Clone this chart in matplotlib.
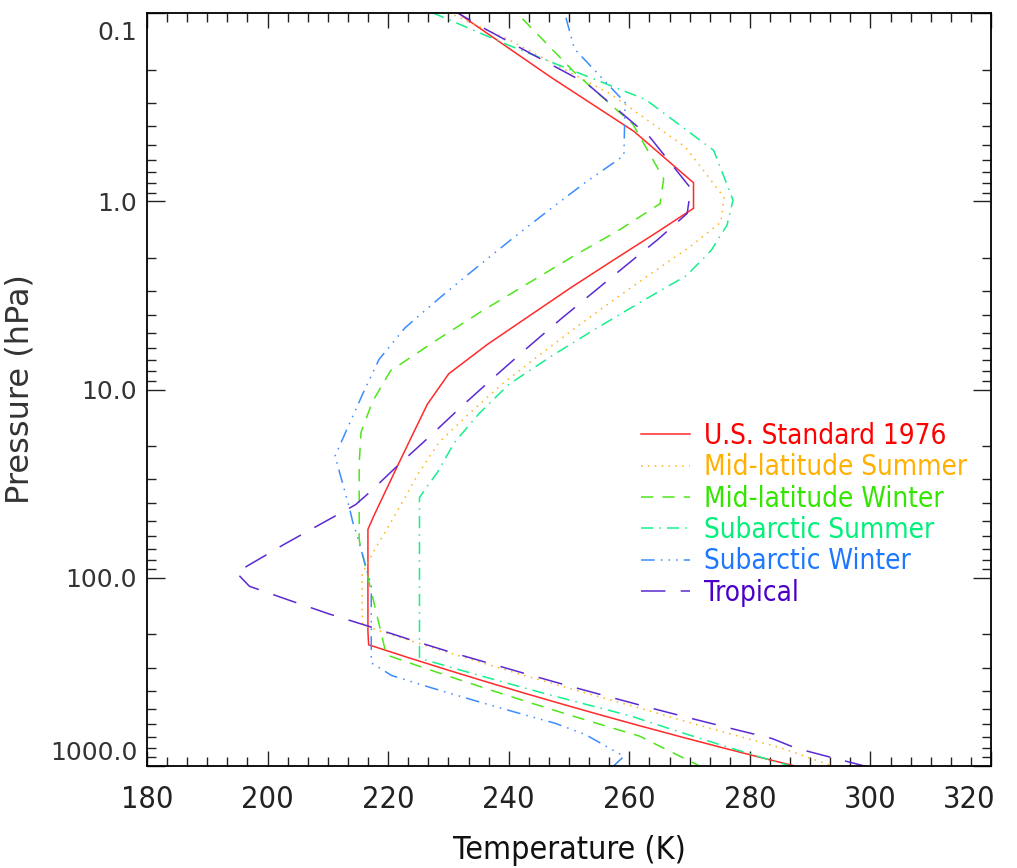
import matplotlib
matplotlib.use("Agg")
import matplotlib.pyplot as plt
from matplotlib.font_manager import FontProperties, fontManager
from matplotlib.transforms import ScaledTranslation
from matplotlib.ticker import FixedLocator, FixedFormatter, MultipleLocator, LogLocator, NullFormatter

# AFGL model atmospheres: pressure (hPa) and temperature (K), 0-70 km
us_p = [1013.25, 898.76, 795.01, 701.21, 616.60, 540.48, 472.17, 411.05, 356.51, 308.00,
        264.99, 226.99, 193.99, 165.79, 141.70, 121.11, 103.52, 88.50, 75.65, 64.67,
        55.29, 47.29, 40.47, 34.67, 29.72, 25.49, 17.43, 11.97, 8.25, 5.746,
        4.047, 2.871, 2.06, 1.491, 1.09, 0.7978, 0.4253, 0.2196, 0.1093, 0.05221]
us_t = [288.15, 281.65, 275.15, 268.66, 262.17, 255.68, 249.19, 242.70, 236.22, 229.73,
        223.25, 216.77, 216.65, 216.65, 216.65, 216.65, 216.65, 216.65, 216.65, 216.65,
        216.65, 217.58, 218.57, 219.57, 220.56, 221.55, 224.03, 226.51, 230.05, 236.51,
        243.5, 250.35, 257.3, 264.16, 270.65, 270.65, 260.77, 247.02, 233.29, 219.59]

mls_p = [1013, 902, 802, 710, 628, 554, 487, 426, 372, 324,
         281, 243, 209, 179, 153, 130, 111, 95.0, 81.2, 69.5,
         59.5, 51.0, 43.7, 37.6, 32.2, 27.7, 19.07, 13.2, 9.3, 6.52,
         4.64, 3.33, 2.41, 1.76, 1.29, 0.951, 0.515, 0.272, 0.139, 0.067]
mls_t = [294.2, 289.7, 285.2, 279.2, 273.2, 267.2, 261.2, 254.7, 248.2, 241.7,
         235.3, 228.8, 222.3, 215.8, 215.7, 215.7, 215.7, 215.7, 216.8, 217.9,
         219.2, 220.4, 221.6, 222.8, 223.9, 225.1, 228.45, 233.7, 239.0, 245.2,
         251.3, 257.5, 263.7, 269.9, 275.2, 275.7, 269.3, 257.1, 240.1, 218.1]

mlw_p = [1018, 897.3, 789.7, 693.8, 608.1, 531.3, 462.7, 401.6, 347.3, 299.2,
         256.8, 219.9, 188.2, 161.0, 137.8, 117.9, 100.9, 86.3, 73.9, 63.2,
         54.1, 46.3, 39.6, 33.9, 29.0, 24.8, 16.9, 11.6, 7.95, 5.5,
         3.86, 2.73, 1.95, 1.41, 1.03, 0.76, 0.39, 0.205, 0.105, 0.053]
mlw_t = [272.2, 268.7, 265.2, 261.7, 255.7, 249.7, 243.7, 237.7, 231.7, 225.7,
         219.7, 219.2, 218.7, 218.2, 217.7, 217.2, 216.7, 216.2, 215.7, 215.2,
         215.2, 215.2, 215.2, 215.2, 215.2, 215.2, 215.5, 217.4, 220.4, 227.9,
         235.4, 243.2, 250.8, 258.5, 265.1, 265.7, 260.6, 250.8, 242.0, 231.0]

sas_p = [1010, 896, 792.9, 700, 616, 541, 473, 413, 359, 310.7,
         267.7, 230, 197.7, 170, 146, 125.5, 108, 92.8, 79.8, 68.6,
         58.9, 50.7, 43.6, 37.5, 32.27, 27.8, 19.1, 13.4, 9.4, 6.61,
         4.72, 3.40, 2.48, 1.82, 1.34, 0.987, 0.537, 0.288, 0.147, 0.071]
sas_t = [287.2, 281.7, 276.3, 270.9, 265.5, 260.1, 253.1, 246.1, 239.2, 232.2,
         225.2, 225.2, 225.2, 225.2, 225.2, 225.2, 225.2, 225.2, 225.2, 225.2,
         225.2, 225.2, 225.2, 225.2, 226.6, 228.1, 231.0, 235.1, 240.0, 247.2,
         254.6, 262.1, 269.5, 273.6, 276.2, 277.2, 274.0, 262.7, 239.7, 216.6]

saw_p = [1013, 887.8, 777.5, 679.8, 593.2, 515.8, 446.7, 385.3, 330.8, 282.9,
         241.8, 206.7, 176.6, 151.0, 129.1, 110.3, 94.31, 80.58, 68.82, 58.75,
         50.14, 42.77, 36.47, 31.09, 26.49, 22.56, 15.13, 10.2, 6.91, 4.701,
         3.23, 2.243, 1.57, 1.113, 0.7948, 0.5719, 0.299, 0.155, 0.079, 0.04]
saw_t = [257.2, 259.1, 255.9, 252.7, 247.7, 240.9, 234.1, 227.3, 220.6, 217.2,
         217.2, 217.2, 217.2, 217.2, 217.2, 217.2, 216.6, 216.0, 215.4, 214.8,
         214.1, 213.6, 213.0, 212.4, 211.8, 211.2, 213.6, 216.0, 218.5, 222.8,
         228.7, 234.7, 240.7, 246.7, 252.7, 259.1, 259.3, 250.9, 248.4, 245.4]

tro_p = [1013, 904, 805, 715, 633, 559, 492, 432, 378, 329,
         286, 247, 213, 182, 156, 132, 111, 93.7, 78.9, 66.6,
         56.5, 48.0, 40.9, 35.0, 30.0, 25.7, 17.63, 12.2, 8.52, 6.0,
         4.26, 3.05, 2.20, 1.59, 1.16, 0.854, 0.456, 0.239, 0.121, 0.058]
tro_t = [299.7, 293.7, 287.7, 283.7, 277.0, 270.3, 263.6, 257.0, 250.3, 243.6,
         237.0, 230.1, 223.6, 217.0, 210.3, 203.7, 197.0, 194.8, 198.8, 202.7,
         206.7, 210.7, 214.6, 217.0, 219.2, 221.4, 227.0, 232.3, 237.7, 243.1,
         248.5, 254.0, 259.4, 264.8, 269.6, 270.2, 263.4, 253.1, 236.0, 218.9]

profiles = [
    ("U.S. Standard 1976", us_t, us_p, "#ff2a2a", "-"),
    ("Mid-latitude Summer", mls_t, mls_p, "#ffb21a", (0, (1, 3.5))),
    ("Mid-latitude Winter", mlw_t, mlw_p, "#4ee61a", (0, (8, 6))),
    ("Subarctic Summer", sas_t, sas_p, "#14f08c", (0, (8, 4, 1, 4))),
    ("Subarctic Winter", saw_t, saw_p, "#3c8cff", (0, (9, 4, 1, 4, 1, 4, 1, 4))),
    ("Tropical", tro_t, tro_p, "#5a2ad2", (0, (16, 10))),
]
text_colors = ["#ff0000", "#ffb000", "#33e600", "#00f07a", "#1e78ff", "#4b00c8"]

# narrow face if one is there, else plain DejaVu at a smaller size
have_cond = any(f.name == "DejaVu Sans" and f.stretch == "condensed" for f in fontManager.ttflist)
scale = 1.0 if have_cond else 0.8


def nfont(size):
    return FontProperties(family="DejaVu Sans", stretch="condensed", size=size * scale)


fig = plt.figure(figsize=(10.17, 8.68), dpi=100)
ax = fig.add_axes([0.1445, 0.1175, 0.83, 0.8675])

for name, t, p, col, ls in profiles:
    ax.plot(t, p, color=col, linestyle=ls, lw=1.1, label=name)

ax.set_yscale("log")
ax.set_xlim(180, 320)
ax.set_ylim(1000, 0.1)

ax.xaxis.set_major_locator(FixedLocator([180, 200, 220, 240, 260, 280, 300, 320]))
ax.xaxis.set_minor_locator(MultipleLocator(20 / 6))
ax.yaxis.set_major_locator(FixedLocator([0.1, 1, 10, 100, 1000]))
ax.yaxis.set_major_formatter(FixedFormatter(["0.1", "1.0", "10.0", "100.0", "1000.0"]))
ax.yaxis.set_minor_locator(LogLocator(base=10, subs=range(2, 10)))
ax.yaxis.set_minor_formatter(NullFormatter())

ax.tick_params(which="both", direction="in", top=True, right=True, width=1.0, color="#222222")
ax.tick_params(which="major", axis="x", length=11)
ax.tick_params(which="major", axis="y", length=13)
ax.tick_params(which="minor", length=6.5)
ax.tick_params(axis="x", pad=14, labelcolor="#222222")
ax.tick_params(axis="y", pad=7, labelsize=18, labelcolor="#333333")
for lab in ax.get_xticklabels():
    lab.set_fontproperties(nfont(22))
for sp in ax.spines.values():
    sp.set_linewidth(1.3)

ax.set_xlabel("Temperature (K)", fontproperties=nfont(23), color="#111111", labelpad=15)
ax.set_ylabel("Pressure (hPa)", fontsize=23, color="#333333", labelpad=10)

leg = ax.legend(loc="upper left", bbox_to_anchor=(0.556, 0.49), frameon=False,
                handlelength=1.75 / scale, handletextpad=0.5 / scale,
                labelspacing=0.12 / scale, prop=nfont(20))
for txt, c in zip(leg.get_texts(), text_colors):
    txt.set_color(c)


# end labels pulled inside the frame
def nudge(tick, dx, dy):
    tick.label1.set_transform(tick.label1.get_transform()
                              + ScaledTranslation(dx / 100, dy / 100, fig.dpi_scale_trans))


fig.canvas.draw()
for tick in ax.yaxis.get_major_ticks():
    txt = tick.label1.get_text()
    if txt == "0.1":
        nudge(tick, 0, -17)
    elif txt == "1000.0":
        nudge(tick, 0, 16)
for tick in ax.xaxis.get_major_ticks():
    if tick.label1.get_text() == "320":
        nudge(tick, -22, 0)

fig.savefig("out.png", dpi=100, facecolor="white")
